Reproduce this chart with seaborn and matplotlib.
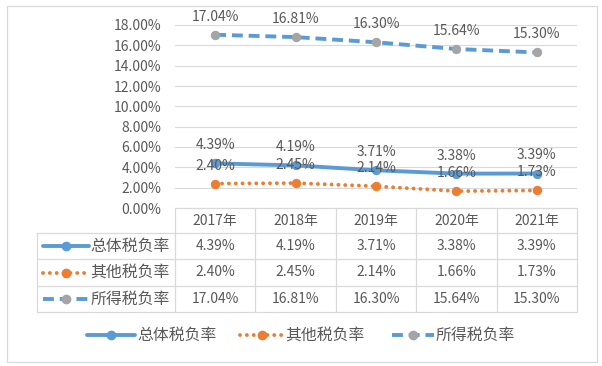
import matplotlib
matplotlib.use("Agg")
import matplotlib.pyplot as plt
import seaborn as sns
from matplotlib.lines import Line2D
from matplotlib.patches import Rectangle

# data
years = ["2017年", "2018年", "2019年", "2020年", "2021年"]
series_names = ["总体税负率", "其他税负率", "所得税负率"]
total_rate = [4.39, 4.19, 3.71, 3.38, 3.39]
other_rate = [2.40, 2.45, 2.14, 1.66, 1.73]
income_rate = [17.04, 16.81, 16.30, 15.64, 15.30]
y_ticks = [0, 2, 4, 6, 8, 10, 12, 14, 16, 18]

sns.set_theme(style="white")
plt.rcParams["font.family"] = ["Noto Sans CJK SC", "DejaVu Sans"]

BLUE = "#5B9BD5"
ORANGE = "#ED7D31"
GRAY = "#A5A5A5"
TXT = "#595959"
GRID = "#D9D9D9"
FS = 10      # numbers
FS_CN = 11.4  # chinese names

W, H = 602, 366
fig = plt.figure(figsize=(W / 100, H / 100), dpi=100)

# background axes in pixel coordinates for the table, legend and border
bg = fig.add_axes([0, 0, 1, 1])
bg.set_xlim(0, W)
bg.set_ylim(H, 0)
bg.axis("off")

# plot area
x0, x1, ytop, ybot = 175, 577, 25, 208
ax = fig.add_axes([x0 / W, 1 - ybot / H, (x1 - x0) / W, (ybot - ytop) / H])

LW = 2.8
MS = 6
styles = [
    dict(color=BLUE, linestyle="-", mfc=BLUE, mec=BLUE),
    dict(color=ORANGE, linestyle=(0, (0.01, 1.75)), dash_capstyle="round", mfc=ORANGE, mec=ORANGE),
    dict(color=BLUE, linestyle=(0, (2.8, 1.5)), mfc=GRAY, mec=GRAY),
]
all_vals = [total_rate, other_rate, income_rate]

for vals, st in zip(all_vals, styles):
    sns.lineplot(x=years, y=vals, ax=ax, marker="o", markersize=MS, linewidth=LW,
                 sort=False, **st)
    for i, v in enumerate(vals):
        ax.annotate(f"{v:.2f}%", (i, v), xytext=(0, 13), textcoords="offset points",
                    ha="center", va="center", fontsize=FS, color=TXT)

ax.set_xlim(-0.5, len(years) - 0.5)
ax.set_ylim(0, 18)
ax.set_yticks(y_ticks)
ax.set_yticklabels([f"{t:.2f}%" for t in y_ticks], fontsize=FS, color=TXT)
ax.tick_params(axis="y", length=0, pad=10)
ax.set_xticks([])
ax.set_xlabel("")
ax.set_ylabel("")
ax.grid(axis="y", color=GRID, linewidth=0.8)
ax.set_axisbelow(True)
for s in ["left", "right", "top", "bottom"]:
    ax.spines[s].set_visible(False)
ax.patch.set_alpha(0)

# data table
tbl_left = 37
row_lines = [208, 233, 259, 286, 312]
col_w = (x1 - x0) / len(years)
cols = [x0 + i * col_w for i in range(len(years) + 1)]
lc = GRID
bg.plot([x0, x1], [row_lines[0], row_lines[0]], color=lc, lw=0.9)
for y in row_lines[1:]:
    bg.plot([tbl_left, x1], [y, y], color=lc, lw=0.9)
bg.plot([tbl_left, tbl_left], [row_lines[1], row_lines[-1]], color=lc, lw=0.9)
for c in cols:
    bg.plot([c, c], [row_lines[0], row_lines[-1]], color=lc, lw=0.9)

for i, yr in enumerate(years):
    bg.text((cols[i] + cols[i + 1]) / 2, (row_lines[0] + row_lines[1]) / 2, yr,
            ha="center", va="center", fontsize=FS, color=TXT)


def key(xa, xb, yc, st):
    bg.add_line(Line2D([xa, xb], [yc, yc], linewidth=LW, color=st["color"],
                       linestyle=st["linestyle"],
                       dash_capstyle=st.get("dash_capstyle", "butt")))
    bg.add_line(Line2D([(xa + xb) / 2], [yc], marker="o", markersize=MS,
                       mfc=st["mfc"], mec=st["mec"], linestyle="none"))


for r, (name, vals, st) in enumerate(zip(series_names, all_vals, styles)):
    yc = (row_lines[r + 1] + row_lines[r + 2]) / 2
    key(43, 89, yc, st)
    bg.text(170, yc, name, ha="right", va="center", fontsize=FS_CN, color=TXT)
    for i, v in enumerate(vals):
        bg.text((cols[i] + cols[i + 1]) / 2, yc, f"{v:.2f}%",
                ha="center", va="center", fontsize=FS, color=TXT)

# legend
leg_y = 335
leg_pos = [(87, 135), (240, 283), (392, 434)]
for (xa, xb), name, st in zip(leg_pos, series_names, styles):
    key(xa, xb, leg_y, st)
    bg.text(xb + 2, leg_y, name, ha="left", va="center", fontsize=FS_CN, color=TXT)

# outer border
bg.add_patch(Rectangle((7, 6), 590, 356, fill=False, edgecolor=GRID, lw=0.9))

fig.savefig("out.png", dpi=100)
